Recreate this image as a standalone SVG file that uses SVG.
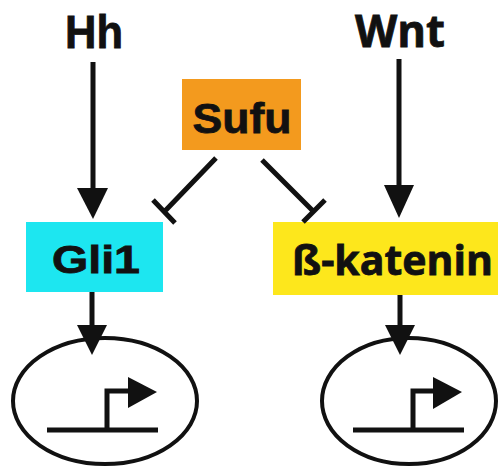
<svg xmlns="http://www.w3.org/2000/svg" width="498" height="466" viewBox="0 0 498 466">
  <style>
    .arial { font-family: "Liberation Sans", Arial, sans-serif; font-weight: bold; fill: #111; stroke: #111; stroke-width: 0.8; }
    .soft { font-family: "Open Sans", "Noto Sans", sans-serif; font-weight: bold; fill: #111; stroke: #111; stroke-width: 0.8; }
    .wire { stroke: #111; stroke-width: 5; fill: none; }
    .cell { stroke: #111; stroke-width: 4; fill: none; }
    .head { fill: #111; }
  </style>
  <rect width="498" height="466" fill="#fff"/>

  <!-- signals -->
  <g id="hh"><text class="arial" x="94" y="48" font-size="46" text-anchor="middle" textLength="58" lengthAdjust="spacingAndGlyphs">Hh</text></g>
  <g id="wnt"><text class="soft" x="400" y="47" font-size="44" text-anchor="middle" textLength="90" lengthAdjust="spacingAndGlyphs">Wnt</text></g>

  <!-- regulators -->
  <g id="sufu">
    <rect x="182" y="79" width="119" height="71" fill="#f39a1e"/>
    <text class="arial" x="242" y="133" font-size="43" text-anchor="middle" textLength="99" lengthAdjust="spacingAndGlyphs">Sufu</text>
  </g>
  <g id="gli1">
    <rect x="26" y="222" width="137" height="70" fill="#1de6f0"/>
    <text class="arial" x="96" y="273" font-size="39" text-anchor="middle" textLength="88" lengthAdjust="spacingAndGlyphs">Gli1</text>
  </g>
  <g id="bcatenin">
    <rect x="273" y="222" width="225" height="73" fill="#fde71c"/>
    <text class="soft" x="292" y="275" font-size="41" textLength="201" lengthAdjust="spacingAndGlyphs">ß-katenin</text>
  </g>

  <!-- target genes -->
  <g id="gene-left">
    <ellipse class="cell" cx="105" cy="401" rx="92" ry="63"/>
    <path class="wire" d="M47 430 H158 M107 430 V391 H130"/>
    <polygon class="head" points="128,377 157,392 128,408"/>
  </g>
  <g id="gene-right">
    <ellipse class="cell" cx="409" cy="401" rx="87" ry="63"/>
    <path class="wire" d="M353 430 H464 M413 430 V391 H435"/>
    <polygon class="head" points="433,377 462,392 433,409"/>
  </g>

  <!-- connectors -->
  <g id="connectors">
    <path class="wire" d="M93 62 V192"/>
    <polygon class="head" points="77,188 108,188 93,219"/>
    <path class="wire" d="M399 59 V189"/>
    <polygon class="head" points="384,185 414,185 399,218"/>
    <path class="wire" d="M92 292 V329"/>
    <polygon class="head" points="77,325 107,325 92,355"/>
    <path class="wire" d="M400 295 V329"/>
    <polygon class="head" points="385,325 415,325 400,355"/>
    <!-- inhibition from Sufu -->
    <path class="wire" d="M216 158 L165 211 M153 200 L175 223"/>
    <path class="wire" d="M262 160 L313 211 M303 222 L325 200"/>
  </g>
</svg>
